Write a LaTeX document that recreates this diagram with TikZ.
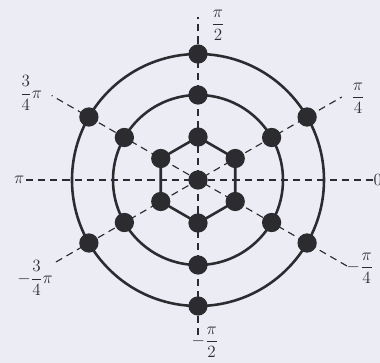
\documentclass[tikz,border=0pt]{standalone}
\usepackage{amsmath}
\usepackage{tikz}
\usetikzlibrary{positioning}
\definecolor{papel}{HTML}{ECEDF4}
\definecolor{tinta}{HTML}{2B2B30}

\begin{document}
\begin{tikzpicture}[x=0.7pt, y=0.7pt,
  ring/.style={draw=tinta, line width=1.8pt},
  eje/.style={draw=tinta, line width=0.8pt, dash pattern=on 5pt off 3.5pt},
  punto/.style={circle, fill=tinta, inner sep=0pt, minimum size=13.5pt},
  etq/.style={font=\fontsize{12}{14}\selectfont, text=tinta, inner sep=1pt}]
\fill[papel] (-198,-183) rectangle (182,180);
\useasboundingbox (-198,-183) rectangle (182,180);
% extremos de los ejes
\coordinate (e0)   at (175,0);
\coordinate (e180) at (-172,0);
\coordinate (e90)  at (0,163);
\coordinate (e270) at (0,-155);
\coordinate (e30)  at (30:166);
\coordinate (e150) at (150:169);
\coordinate (e210) at (210:164);
\coordinate (e330) at (330:172);
\foreach \a/\b in {e180/e0, e270/e90, e210/e30, e330/e150}
  \draw[eje] (\a) -- (\b);
% circunferencias y hexagono
\draw[ring] (0,0) circle (126);
\draw[ring] (0,0) circle (85);
\draw[ring] (30:43) -- (90:43) -- (150:43) -- (210:43) -- (270:43) -- (330:43) -- cycle;
% puntos
\node[punto] (c) at (0,0) {};
\foreach \ang [count=\i] in {30,90,...,330} {
  \node[punto] (h\i) at (\ang:43) {};
  \node[punto] (m\i) at (\ang:85) {};
  \node[punto] (o\i) at (\ang:126) {};
}
% etiquetas
\node[etq, anchor=west, inner sep=0.3pt] (l0) at (e0) {$0$};
\node[etq, anchor=east] (l180) at (e180) {$\pi$};
\node[etq] (l90)  at (20,155)   {$\dfrac{\pi}{2}$};
\node[etq] (l270) at (7,-162)   {$-\dfrac{\pi}{2}$};
\node[etq] (l30)  at (160,82)   {$\dfrac{\pi}{4}$};
\node[etq] (l150) at (-167,87)  {$\dfrac{3}{4}\pi$};
\node[etq] (l210) at (-163,-98) {$-\dfrac{3}{4}\pi$};
\node[etq] (l330) at (162,-88)  {$-\dfrac{\pi}{4}$};
\end{tikzpicture}
\end{document}
